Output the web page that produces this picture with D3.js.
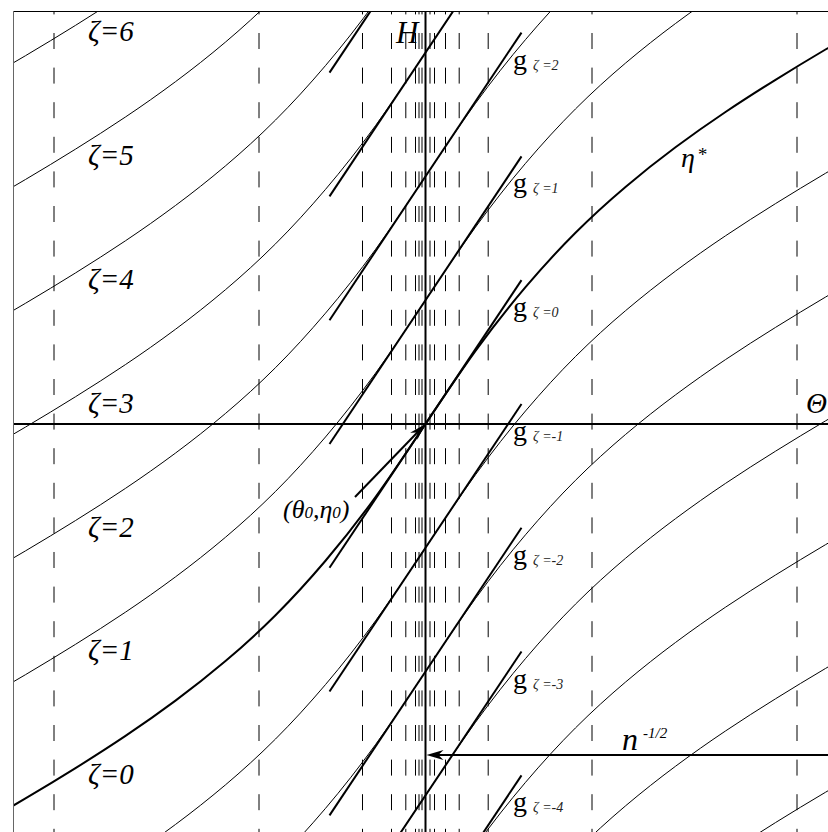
<!DOCTYPE html>
<html>
<head>
<meta charset="utf-8">
<script src="https://cdn.jsdelivr.net/npm/d3@7"></script>
<style>
  body { margin: 0; background: #fff; }
  text { font-family: "Liberation Serif", "DejaVu Serif", serif; fill: #000; }
</style>
</head>
<body>
<div id="container"></div>
<script>
// eta*(theta), origin = (theta0, eta0)
const thetaVals = [-4.5, -4, -3.5, -3, -2.5, -2, -1.5, -1, -0.5, 0, 0.5, 1, 1.5, 2, 2.5, 3, 3.5, 4, 4.5]
const etaStar = [-3.26, -3.025, -2.78, -2.52, -2.235, -1.915, -1.545, -1.105, -0.59, 0,
    0.59, 1.105, 1.545, 1.915, 2.235, 2.52, 2.78, 3.025, 3.26]

// curve family eta* + zeta, labelled ones on the left
const zetas = [-7, -6, -5, -4, -3, -2, -1, 0, 1, 2, 3, 4, 5, 6, 7]
const zetaLabels = [0, 1, 2, 3, 4, 5, 6]

// tangent lines g_zeta through (theta0, eta0 + zeta)
const gZetas = [-4, -3, -2, -1, 0, 1, 2, 3, 4]
const gLabelZetas = [-4, -3, -2, -1, 0, 1, 2]
const gSlope = 1.21
const gRange = [-0.96, 0.96]

// vertical dashed grid in theta
const gridThetas = [-3.715, -1.665, -0.63, -0.34, -0.197, -0.10, -0.065, -0.035,
    0.045, 0.09, 0.20, 0.337, 0.627, 1.665, 3.715]

// n^-1/2 arrow level
const nArrowEta = -2.674

const width = 828
const height = 832
const frame = { left: 13, top: 11, right: 828, bottom: 832 }

const svg = d3.select('#container').append('svg')
    .attr('width', width).attr('height', height)
    .style('display', 'block')

const x = d3.scaleLinear().domain([-4.125, 4.025]).range([frame.left, frame.right])
const y = d3.scaleLinear().domain([-3.296, 3.336]).range([frame.bottom, frame.top])

svg.append('clipPath').attr('id', 'clip')
    .append('rect')
    .attr('x', frame.left).attr('y', frame.top)
    .attr('width', frame.right - frame.left).attr('height', frame.bottom - frame.top)

const plot = svg.append('g').attr('clip-path', 'url(#clip)')

// dashed verticals
plot.selectAll('line.grid').data(gridThetas).enter().append('line')
    .attr('class', 'grid')
    .attr('x1', d => x(d)).attr('x2', d => x(d))
    .attr('y1', frame.top).attr('y2', frame.bottom)
    .attr('stroke', '#000')
    .attr('stroke-width', 1)
    .attr('stroke-dasharray', '16,18.6')
    .attr('stroke-dashoffset', 12.6)

const pts = thetaVals.map((t, i) => [t, etaStar[i]])
const line = d3.line().x(d => x(d[0])).y(d => y(d[1])).curve(d3.curveNatural)

// thin curves
plot.selectAll('path.zeta').data(zetas.filter(z => z !== 0)).enter().append('path')
    .attr('class', 'zeta')
    .attr('d', z => line(pts.map(p => [p[0], p[1] + z])))
    .attr('fill', 'none')
    .attr('stroke', '#000')
    .attr('stroke-width', 1)

// eta* thick
plot.append('path')
    .attr('d', line(pts))
    .attr('fill', 'none')
    .attr('stroke', '#000')
    .attr('stroke-width', 2)

// tangent lines g
plot.selectAll('line.g').data(gZetas).enter().append('line')
    .attr('class', 'g')
    .attr('x1', x(gRange[0])).attr('x2', x(gRange[1]))
    .attr('y1', z => y(z + gSlope * gRange[0]))
    .attr('y2', z => y(z + gSlope * gRange[1]))
    .attr('stroke', '#000')
    .attr('stroke-width', 2)

// axes
plot.append('line')
    .attr('x1', frame.left).attr('x2', frame.right)
    .attr('y1', y(0)).attr('y2', y(0))
    .attr('stroke', '#000').attr('stroke-width', 2)
plot.append('line')
    .attr('x1', x(0)).attr('x2', x(0))
    .attr('y1', frame.top).attr('y2', frame.bottom)
    .attr('stroke', '#000').attr('stroke-width', 2)

// frame (top and left visible)
svg.append('line')
    .attr('x1', frame.left).attr('x2', frame.right)
    .attr('y1', frame.top + 0.5).attr('y2', frame.top + 0.5)
    .attr('stroke', '#000').attr('stroke-width', 1)
svg.append('line')
    .attr('x1', frame.left + 0.5).attr('x2', frame.left + 0.5)
    .attr('y1', frame.top).attr('y2', frame.bottom)
    .attr('stroke', '#666').attr('stroke-width', 1)

// arrowheads
const arrowHead = (tipX, tipY, angle, len, half) => {
    const p = d3.path()
    p.moveTo(0, 0)
    p.lineTo(-len, -half)
    p.lineTo(-len * 0.7, 0)
    p.lineTo(-len, half)
    p.closePath()
    svg.append('path')
        .attr('d', p.toString())
        .attr('transform', `translate(${tipX},${tipY}) rotate(${angle})`)
        .attr('fill', '#000')
}

// arrow from (theta0, eta0) label
const ax0 = x(-0.705), ay0 = y(-0.59)
const tipX = x(0), tipY = y(0)
const ang = Math.atan2(tipY - ay0, tipX - ax0) * 180 / Math.PI
svg.append('line')
    .attr('x1', ax0).attr('y1', ay0)
    .attr('x2', tipX - 8 * Math.cos(ang * Math.PI / 180))
    .attr('y2', tipY - 8 * Math.sin(ang * Math.PI / 180))
    .attr('stroke', '#000').attr('stroke-width', 2)
arrowHead(tipX, tipY, ang, 17, 5)

// n^-1/2 arrow
svg.append('line')
    .attr('x1', frame.right).attr('x2', x(0) + 8)
    .attr('y1', y(nArrowEta)).attr('y2', y(nArrowEta))
    .attr('stroke', '#000').attr('stroke-width', 2)
arrowHead(x(0) + 1, y(nArrowEta), 180, 17, 5)

// zeta labels on the left
svg.selectAll('text.zl').data(zetaLabels).enter().append('text')
    .attr('class', 'zl')
    .attr('x', x(-3.375))
    .attr('y', z => y(z - 2.91))
    .style('font-size', '29px')
    .style('font-style', 'italic')
    .text(z => 'ζ=' + z)

// g labels
const gl = svg.selectAll('g.gl').data(gLabelZetas).enter().append('g').attr('class', 'gl')
gl.append('text')
    .attr('x', x(0.875))
    .attr('y', z => y(z + 0.87))
    .style('font-size', '28px')
    .text('g')
gl.append('text')
    .attr('x', x(1.075))
    .attr('y', z => y(z + 0.87) + 1)
    .style('font-size', '14px')
    .style('font-style', 'italic')
    .style('fill', '#222')
    .text(z => 'ζ =' + z)

// axis names and other labels
svg.append('text').attr('x', 396).attr('y', 43)
    .style('font-size', '31px').style('font-style', 'italic').text('H')
svg.append('text').attr('x', 806).attr('y', 413)
    .style('font-size', '29px').style('font-style', 'italic').text('Θ')

svg.append('text').attr('x', 681).attr('y', 167)
    .style('font-size', '28px').style('font-style', 'italic').text('η')
svg.append('text').attr('x', 697).attr('y', 161)
    .style('font-size', '19px').style('font-style', 'italic').text('*')

const tl = svg.append('text').attr('x', 283).attr('y', 518)
    .style('font-size', '26px').style('font-style', 'italic')
tl.append('tspan').text('(θ')
tl.append('tspan').style('font-size', '17px').text('0')
tl.append('tspan').text(',η')
tl.append('tspan').style('font-size', '17px').text('0')
tl.append('tspan').text(')')

svg.append('text').attr('x', 622).attr('y', 750)
    .style('font-size', '32px').style('font-style', 'italic').text('n')
svg.append('text').attr('x', 643).attr('y', 738)
    .style('font-size', '15px').style('font-style', 'italic').text('-1/2')
</script>
</body>
</html>
